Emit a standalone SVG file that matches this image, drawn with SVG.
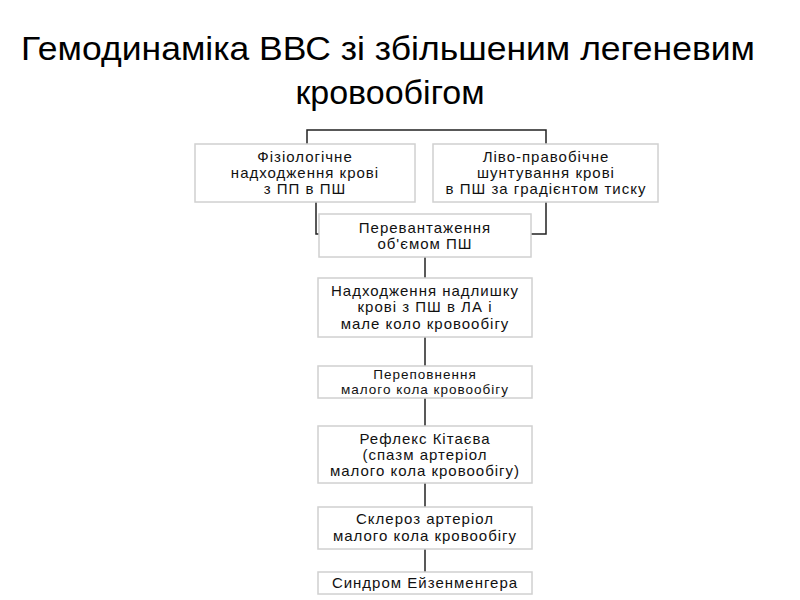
<svg xmlns="http://www.w3.org/2000/svg" width="800" height="600" viewBox="0 0 800 600">
<style>
.b{fill:#fff;stroke:#d0d0d0;stroke-width:1.5}
.t{font-family:"Liberation Sans",Arial,sans-serif;font-size:15px;fill:#111;text-anchor:middle;letter-spacing:1px}
.s{font-size:13.5px}
.h{font-family:"Liberation Sans",Arial,sans-serif;font-size:34px;fill:#000;text-anchor:middle}
.c{fill:none;stroke:#222;stroke-width:1.5}
</style>
<rect width="800" height="600" fill="#fff"/>
<text class="h" x="388" y="60" textLength="734" lengthAdjust="spacingAndGlyphs">Гемодинаміка ВВС зі збільшеним легеневим</text>
<text class="h" x="390" y="104">кровообігом</text>
<g id="connectors">
<polyline class="c" points="307,145 307,130 546,130 546,145"/>
<polyline class="c" points="316,202 316,234 320,234"/>
<polyline class="c" points="546,202 546,234 531,234"/>
<line class="c" x1="425" y1="257" x2="425" y2="278"/>
<line class="c" x1="425" y1="337" x2="425" y2="366"/>
<line class="c" x1="425" y1="398" x2="425" y2="426"/>
<line class="c" x1="425" y1="483" x2="425" y2="507"/>
<line class="c" x1="425" y1="549" x2="425" y2="572"/>
</g>
<g id="n1"><rect class="b" x="195" y="144" width="220" height="58"/>
<text class="t" x="305" y="162">Фізіологічне</text><text class="t" x="305" y="178">надходження крові</text><text class="t" x="305" y="194">з ПП в ПШ</text></g>
<g id="n2"><rect class="b" x="433" y="144" width="225" height="58"/>
<text class="t" x="546" y="162">Ліво-правобічне</text><text class="t" x="546" y="178">шунтування крові</text><text class="t" x="546" y="194">в ПШ за градієнтом тиску</text></g>
<g id="n3"><rect class="b" x="319" y="214" width="212" height="43"/>
<text class="t" x="425" y="233">Перевантаження</text><text class="t" x="425" y="249">об'ємом ПШ</text></g>
<g id="n4"><rect class="b" x="318" y="278" width="214" height="59"/>
<text class="t" x="425" y="296">Надходження надлишку</text><text class="t" x="425" y="312">крові з ПШ в ЛА і</text><text class="t" x="425" y="329">мале коло кровообігу</text></g>
<g id="n5"><rect class="b" x="318" y="366" width="214" height="32"/>
<text class="t s" x="425" y="379">Переповнення</text><text class="t s" x="425" y="394">малого кола кровообігу</text></g>
<g id="n6"><rect class="b" x="318" y="426" width="214" height="57"/>
<text class="t" x="425" y="444">Рефлекс Кітаєва</text><text class="t" x="425" y="460">(спазм артеріол</text><text class="t" x="425" y="476">малого кола кровообігу)</text></g>
<g id="n7"><rect class="b" x="318" y="507" width="214" height="42"/>
<text class="t" x="425" y="524">Склероз артеріол</text><text class="t" x="425" y="541">малого кола кровообігу</text></g>
<g id="n8"><rect class="b" x="318" y="572" width="214" height="22"/>
<text class="t" x="425" y="588">Синдром Ейзенменгера</text></g>
</svg>
